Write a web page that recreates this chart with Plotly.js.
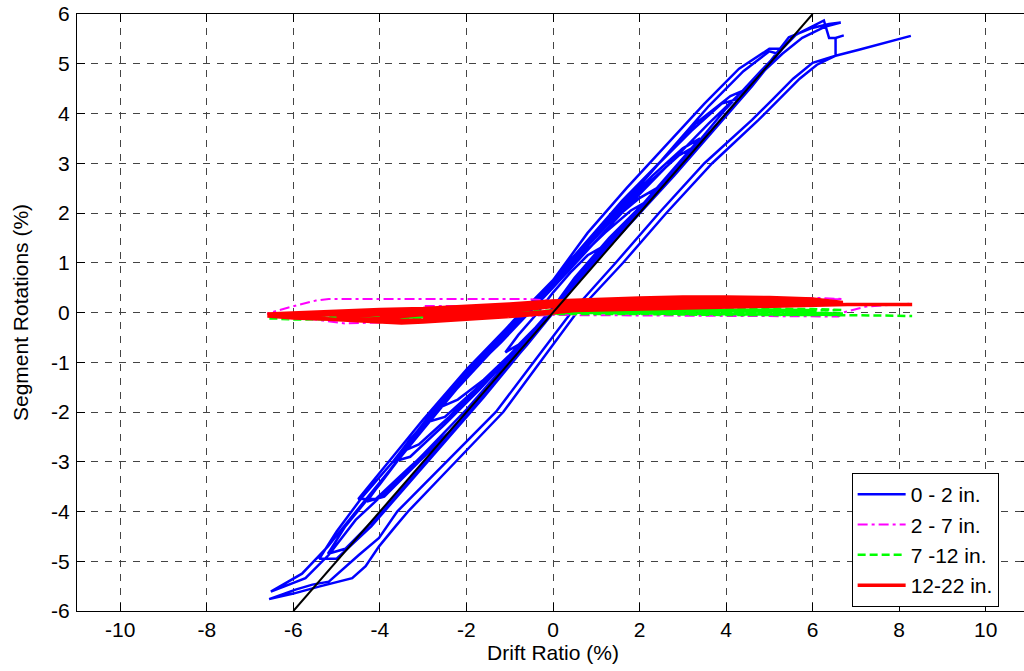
<!DOCTYPE html>
<html>
<head>
<meta charset="utf-8">
<script src="https://cdn.plot.ly/plotly-3.0.1.min.js"></script>
<style>
html,body{margin:0;padding:0;overflow:hidden;background:#fff;}
#chart{width:1040px;height:671px;}
</style>
</head>
<body>
<div id="chart"></div>
<script>
// ---- Data ----
const seriesNames = ["0 - 2 in.", "2 - 7 in.", "7 -12 in.", "12-22 in."];

// 0 - 2 in. (blue)
const blueX = [0,0.4,0.8,1.1,0.8,0.4,0,-0.4,-0.8,-1.1,-0.8,-0.4,0,
  0.5,1.0,1.5,2.0,2.2,1.8,1.2,0.6,0,-0.6,-1.2,-1.8,-2.3,-2.6,-2.2,-1.6,-1.0,-0.4,0,
  0.5,1.3,2.1,2.4,2.0,1.3,0.6,0,-0.7,-1.4,-2.1,-2.7,-2.9,-2.5,-1.8,-1.1,-0.4,0,
  0.5,1.2,2.0,2.8,3.3,2.9,2.2,1.5,0.8,0,-0.8,-1.6,-2.4,-3.1,-3.5,-3.1,-2.4,-1.6,-0.8,0,
  0.6,1.4,2.2,3.0,3.4,3.0,2.3,1.5,0.7,0,-0.9,-1.8,-2.6,-3.3,-3.7,-3.3,-2.5,-1.7,-0.9,0,
  0.6,1.5,2.5,3.3,4.0,4.3,3.9,3.2,2.4,1.6,0.8,0,-1.0,-2.0,-3.0,-3.8,-4.3,-3.9,-3.1,-2.2,-1.3,-0.5,0,
  0.7,1.6,2.6,3.5,4.2,4.5,4.1,3.3,2.5,1.6,0.7,0,-1.0,-2.0,-3.0,-3.9,-4.5,-4.1,-3.3,-2.4,-1.5,-0.6,0,
  0.8,1.8,2.8,3.8,4.6,5.2,5.0,4.4,3.6,2.8,1.9,1.0,0,-1.0,-2.0,-3.0,-4.0,-4.8,-5.2,-4.8,-4.0,-3.2,-2.3,-1.4,-0.5,0,
  0.9,1.9,2.9,3.9,4.7,5.3,5.0,4.3,3.5,2.6,1.7,0.8,0,-0.9,-1.8,-2.7,-3.6,-4.4,-5.0,-5.4,-5.0,-4.2,-3.4,-2.5,-1.6,-0.7,0,
  0.9,2.0,3.0,4.0,4.8,5.45,5.99,6.38,6.65,6.3,5.76,5.3,4.5,3.6,2.7,1.8,0.9,0,-1.0,-2.0,-3.0,-3.9,-4.6,-5.2,-5.8,-6.52,
  -6.10,-5.72,-5.18,-4.56,-3.8,-3.0,-2.0,-1.0,0,1.0,2.0,3.0,4.0,4.8,5.61,6.26,6.38,6.53,6.72,6.53,6.53,
  6.1,5.7,5.22,4.75,3.68,2.62,1.62,0.55,-0.3,-1.15,-2.25,-3.35,-3.64,-4.02,-4.33,-4.64,-5.41,-6.0,-6.56,
  -5.95,-5.56,-5.18,-4.48,-4.02,-3.6,-2.12,-1.32,-0.45,0.42,1.45,2.45,3.5,4.6,5.06,5.55,6.0,6.53,7.07,7.69,8.27];
const blueY = [0.05,0.55,1.0,1.3,1.15,0.8,0.4,-0.05,-0.45,-0.8,-0.65,-0.3,0.1,
  0.65,1.15,1.6,2.05,2.25,2.05,1.6,1.1,0.5,-0.05,-0.6,-1.1,-1.6,-1.9,-1.75,-1.35,-0.85,-0.3,0.1,
  0.7,1.5,2.2,2.5,2.3,1.8,1.15,0.55,-0.05,-0.65,-1.3,-1.95,-2.2,-2.1,-1.55,-1.0,-0.35,0.05,
  0.6,1.3,2.05,2.85,3.35,3.15,2.6,2.0,1.35,0.55,-0.2,-0.95,-1.7,-2.4,-2.8,-2.65,-2.1,-1.4,-0.7,0.1,
  0.75,1.5,2.3,3.1,3.5,3.3,2.75,2.05,1.3,0.6,-0.2,-1.05,-1.85,-2.55,-3.0,-2.9,-2.25,-1.55,-0.8,0.1,
  0.7,1.55,2.5,3.3,4.0,4.3,4.2,3.65,2.95,2.2,1.4,0.55,-0.35,-1.3,-2.3,-3.2,-3.8,-3.7,-3.0,-2.25,-1.35,-0.5,0.05,
  0.8,1.7,2.65,3.5,4.2,4.5,4.35,3.8,3.05,2.25,1.35,0.65,-0.25,-1.15,-2.15,-3.1,-3.75,-3.75,-3.1,-2.4,-1.55,-0.65,0.0,
  0.85,1.8,2.75,3.75,4.55,5.2,5.25,4.85,4.15,3.35,2.45,1.6,0.6,-0.3,-1.25,-2.3,-3.45,-4.3,-4.85,-4.75,-4.05,-3.25,-2.35,-1.45,-0.5,0.05,
  1.0,1.95,2.9,3.9,4.7,5.3,5.3,4.9,4.2,3.35,2.5,1.6,0.65,-0.15,-1.0,-1.9,-2.9,-3.7,-4.4,-4.95,-4.95,-4.3,-3.5,-2.6,-1.7,-0.75,0.0,
  1.0,2.05,3.0,3.95,4.8,5.53,5.72,5.80,5.83,5.75,5.52,5.2,4.55,3.8,3.0,2.2,1.35,0.5,-0.35,-1.3,-2.35,-3.3,-4.05,-4.7,-5.25,-5.61,
  -5.47,-5.34,-4.87,-4.17,-3.55,-2.85,-1.95,-0.95,0.1,1.15,2.1,3.05,4.1,4.85,5.58,5.87,5.52,5.52,5.57,5.52,5.16,
  4.98,4.7,4.27,3.87,3.0,2.0,1.0,0.0,-1.0,-2.0,-3.0,-4.0,-4.30,-4.70,-5.10,-5.34,-5.51,-5.65,-5.76,
  -5.57,-5.47,-5.41,-4.87,-4.53,-4.0,-2.7,-2.0,-1.0,0.0,1.0,2.0,3.0,3.87,4.27,4.7,5.02,5.16,5.28,5.42,5.56];

// 2 - 7 in. (magenta)
const magentaX = [0,1,2,3,2,1,-0.1,-1.5,-3.0,-2.5,-1.5,0,2,4,5.6,6.7,6.2,5,3,1,-0.1,-0.55,-3,-5.18,-5.48,-6.03,-6.6,
  -6.03,-5.4,-4.8,-4,-3.3,-2,-1,0,2,4,5.5,6.6,6.7,7.23,8.3];
const magentaY = [0.0,0.05,0.08,0.1,0.12,0.12,0.13,0.13,0.13,0.02,-0.04,-0.02,0.05,0.15,0.25,0.27,0.29,0.28,0.27,0.25,0.24,0.27,0.27,0.27,0.24,0.12,-0.02,
  -0.08,-0.15,-0.22,-0.2,-0.17,-0.12,-0.08,-0.05,-0.06,-0.08,-0.08,-0.08,0.0,0.12,0.18];

// 7 -12 in. (green)
const greenX = [0,2,4,5,4,2,0,-2,-4,-5,-4,-2,0,
  1,3,5,6,5,3,1,0,-2,-4,-6,-4,-2,0,
  2,4,6,6.7,6,4,2,0,-2,-4,-6,-6.6,-6,-4,-2,0,
  2,4,6,6.7,6,4,2,0,
  1,3,5,6.7,5,3,1,0,
  2,4,6,6.7,7.5,8.3];
const greenY = [0.0,0.03,0.05,0.06,0.07,0.06,0.02,-0.04,-0.08,-0.1,-0.11,-0.08,-0.02,
  0.01,0.03,0.04,0.05,0.06,0.05,0.03,0.01,-0.05,-0.09,-0.11,-0.12,-0.09,-0.02,
  0.0,0.02,0.04,0.05,0.07,0.08,0.07,0.04,-0.03,-0.07,-0.1,-0.12,-0.14,-0.13,-0.1,-0.03,
  -0.03,-0.05,-0.05,-0.04,0.0,0.0,0.01,0.0,
  -0.01,-0.02,-0.03,-0.02,0.02,0.03,0.02,0.0,
  -0.02,-0.03,-0.04,-0.05,-0.06,-0.07];

// 12-22 in. (red)
const redX = [0,1,2,1,0,-1,-2,-1,0,
  1,2,2.5,2,1,0,-1,-2,-2.5,-2,-1,0,
  1,2,3,2,1,0,-1,-2,-3,-2,-1,0,
  1,2,3,4,3,2,1,0,-1,-2,-3,-4,-3.5,-3,-2,-1,0,
  1,2,3,4,4.5,4,3,2,1,0,-1,-2,-3,-4,-4.5,-4,-3,-2,-1,0,
  1,2,3,4,5,4,3,2,1,0,-1,-2,-3,-4,-5,-4,-3.5,-3,-2,-1,0,
  1,2,3,4,5,6,5,4,3,2,1,0,-1,-2,-3,-4,-5,-6,-5,-4,-3,-2,-1,0,
  1,2,3,4,5,6,6.7,6,5,4,3,2,1,0,-1,-2,-3,-4,-5,-6,-6.6,-6.2,-5.5,-4.5,-3.5,-3,-2,-1,0,
  1,2,3,4,5,6,6.7,6,5,4,3,2,1,0,-1,-2,-3,-4,-5,-6,-6.6,-6,-5,-4,-3,-2,-1,0,
  1,2,3,4,5,6,6.8,7.5,8.3];
const redY = [0.05,0.14,0.2,0.22,0.16,0.05,-0.05,-0.04,0.03,
  0.1,0.16,0.2,0.24,0.19,0.12,0.02,-0.07,-0.1,-0.12,-0.08,-0.01,
  0.12,0.18,0.24,0.26,0.22,0.17,0.08,0.0,-0.08,-0.09,-0.05,0.02,
  0.1,0.16,0.22,0.27,0.29,0.27,0.24,0.2,0.12,0.05,-0.02,-0.1,-0.16,-0.15,-0.11,-0.06,0.0,
  0.09,0.14,0.19,0.24,0.26,0.28,0.28,0.24,0.2,0.15,0.09,0.03,-0.04,-0.12,-0.14,-0.18,-0.17,-0.12,-0.06,0.01,
  0.08,0.12,0.17,0.22,0.26,0.3,0.3,0.28,0.25,0.22,0.14,0.07,0.02,-0.04,-0.1,-0.17,-0.2,-0.18,-0.13,-0.07,0.0,
  0.07,0.1,0.13,0.17,0.21,0.24,0.28,0.29,0.28,0.26,0.23,0.19,0.13,0.08,0.04,0.0,-0.05,-0.08,-0.14,-0.19,-0.17,-0.12,-0.05,0.02,
  0.06,0.08,0.1,0.12,0.15,0.2,0.2,0.27,0.3,0.31,0.31,0.29,0.26,0.23,0.17,0.12,0.08,0.06,0.03,0.0,-0.03,-0.09,-0.12,-0.16,-0.21,-0.19,-0.14,-0.08,0.0,
  0.08,0.11,0.14,0.19,0.23,0.23,0.17,0.25,0.27,0.27,0.25,0.22,0.2,0.16,0.1,0.06,0.04,0.02,-0.01,-0.04,-0.07,-0.11,-0.14,-0.17,-0.16,-0.11,-0.05,0.03,
  0.05,0.08,0.1,0.11,0.13,0.15,0.16,0.16,0.16];

// reference 1:1 line (black)
const refLineX = [-6, 6];
const refLineY = [-6, 6];

const xTickVals = [-10,-8,-6,-4,-2,0,2,4,6,8,10];
const xTickText = ["-10","-8","-6","-4","-2","0","2","4","6","8","10"];
const yTickVals = [-6,-5,-4,-3,-2,-1,0,1,2,3,4,5,6];
const yTickText = ["-6","-5","-4","-3","-2","-1","0","1","2","3","4","5","6"];

const xTitle = "Drift Ratio (%)";
const yTitle = "Segment Rotations (%)";

// ---- Plot ----
const FONT = "Liberation Sans, Arial, Helvetica, sans-serif";
const FS = 21;
const traces = [
  {x: blueX, y: blueY, name: seriesNames[0], mode: "lines", line: {color: "#0000ff", width: 2.5}},
  {x: magentaX, y: magentaY, name: seriesNames[1], mode: "lines", line: {color: "#ff00ff", width: 2, dash: "10px,4px,3px,4px"}},
  {x: greenX, y: greenY, name: seriesNames[2], mode: "lines", line: {color: "#00ff00", width: 2.5, dash: "8px,4px"}},
  {x: redX, y: redY, name: seriesNames[3], mode: "lines", line: {color: "#ff0000", width: 3.5}},
  {x: refLineX, y: refLineY, mode: "lines", showlegend: false, hoverinfo: "skip", line: {color: "#000000", width: 2}}
];

const axisCommon = {
  showline: true, linecolor: "#000", linewidth: 1, mirror: "ticks",
  ticks: "inside", ticklen: 8, tickcolor: "#000", tickwidth: 1,
  showgrid: true, gridcolor: "#444", gridwidth: 1, griddash: "7px,7px",
  zeroline: false, tickfont: {family: FONT, size: FS, color: "#000"}
};

const layout = {
  width: 1040, height: 671,
  margin: {l: 77, r: 11, t: 14, b: 60, pad: 0},
  paper_bgcolor: "#fff", plot_bgcolor: "#fff",
  font: {family: FONT, size: FS, color: "#000"},
  xaxis: Object.assign({}, axisCommon, {
    range: [-11, 11], tickmode: "array", tickvals: xTickVals, ticktext: xTickText,
    title: {text: xTitle, font: {family: FONT, size: FS, color: "#000"}, standoff: 3}
  }),
  yaxis: Object.assign({}, axisCommon, {
    range: [-6, 6], tickmode: "array", tickvals: yTickVals, ticktext: yTickText,
    ticklabelstandoff: 2,
    title: {text: yTitle, font: {family: FONT, size: FS, color: "#000"}, standoff: 16}
  }),
  showlegend: true,
  legend: {
    x: 0.8137, y: 0.231, xanchor: "left", yanchor: "top",
    bgcolor: "#fff", bordercolor: "#000", borderwidth: 1,
    font: {family: FONT, size: FS, color: "#000"},
    itemwidth: 48, tracegroupgap: 0
  }
};

Plotly.newPlot("chart", traces, layout, {displayModeBar: false, staticPlot: true});
</script>
</body>
</html>
